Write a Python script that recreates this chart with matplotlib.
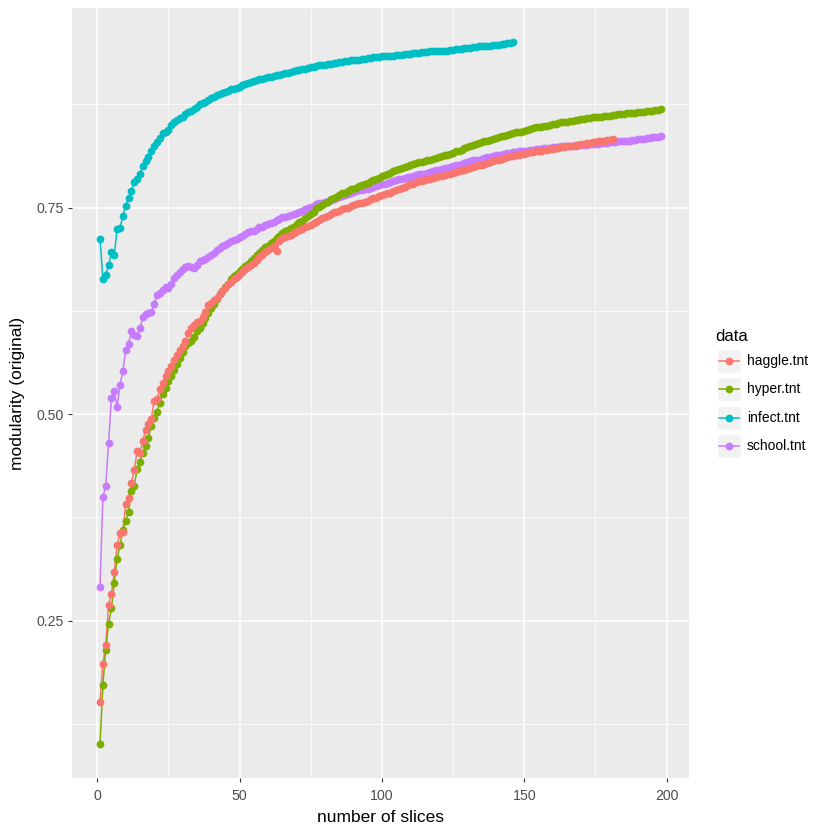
import numpy as np
import matplotlib
matplotlib.use("Agg")
from matplotlib import pyplot as plt
from matplotlib.patches import Rectangle
from matplotlib.lines import Line2D

plt.rcParams['font.family'] = ['Liberation Sans', 'DejaVu Sans']

# modularity (original) per number of slices
haggle = [
    0.152, 0.198, 0.220, 0.269, 0.282, 0.309, 0.341, 0.356, 0.357, 0.391,
    0.399, 0.416, 0.432, 0.455, 0.453, 0.467, 0.481, 0.488, 0.494, 0.516,
    0.518, 0.530, 0.538, 0.546, 0.552, 0.558, 0.566, 0.572, 0.578, 0.582,
    0.588, 0.598, 0.604, 0.608, 0.611, 0.613, 0.618, 0.624, 0.632, 0.635,
    0.638, 0.641, 0.645, 0.649, 0.653, 0.657, 0.660, 0.663, 0.666, 0.669,
    0.672, 0.675, 0.678, 0.681, 0.683, 0.686, 0.690, 0.693, 0.696, 0.698,
    0.701, 0.703, 0.697, 0.709, 0.713, 0.714, 0.716, 0.717, 0.719, 0.721,
    0.723, 0.724, 0.726, 0.728, 0.729, 0.731, 0.733, 0.735, 0.737, 0.739,
    0.740, 0.742, 0.744, 0.745, 0.746, 0.748, 0.749, 0.750, 0.752, 0.753,
    0.754, 0.755, 0.756, 0.757, 0.758, 0.760, 0.761, 0.762, 0.764, 0.765,
    0.766, 0.767, 0.768, 0.770, 0.771, 0.773, 0.774, 0.775, 0.777, 0.778,
    0.779, 0.781, 0.782, 0.782, 0.783, 0.784, 0.785, 0.786, 0.787, 0.788,
    0.788, 0.789, 0.790, 0.791, 0.792, 0.793, 0.794, 0.795, 0.796, 0.797,
    0.798, 0.799, 0.800, 0.801, 0.802, 0.803, 0.804, 0.805, 0.806, 0.807,
    0.808, 0.809, 0.810, 0.811, 0.812, 0.812, 0.813, 0.814, 0.815, 0.815,
    0.816, 0.817, 0.817, 0.818, 0.818, 0.819, 0.820, 0.820, 0.821, 0.821,
    0.822, 0.822, 0.823, 0.823, 0.824, 0.825, 0.825, 0.826, 0.826, 0.827,
    0.827, 0.828, 0.828, 0.829, 0.829, 0.830, 0.831, 0.831, 0.832, 0.832,
    0.833,
]

hyper = [
    0.101, 0.172, 0.215, 0.246, 0.265, 0.296, 0.325, 0.341, 0.360, 0.370,
    0.382, 0.407, 0.413, 0.433, 0.442, 0.453, 0.461, 0.471, 0.486, 0.495,
    0.502, 0.514, 0.524, 0.532, 0.540, 0.546, 0.553, 0.561, 0.568, 0.575,
    0.582, 0.586, 0.589, 0.593, 0.600, 0.604, 0.610, 0.616, 0.622, 0.628,
    0.633, 0.639, 0.645, 0.649, 0.654, 0.658, 0.663, 0.667, 0.670, 0.673,
    0.676, 0.679, 0.682, 0.685, 0.689, 0.692, 0.695, 0.699, 0.702, 0.704,
    0.707, 0.710, 0.713, 0.716, 0.719, 0.722, 0.723, 0.725, 0.727, 0.730,
    0.732, 0.734, 0.737, 0.740, 0.742, 0.745, 0.749, 0.751, 0.753, 0.755,
    0.757, 0.760, 0.762, 0.763, 0.765, 0.767, 0.768, 0.770, 0.772, 0.773,
    0.774, 0.776, 0.777, 0.779, 0.780, 0.782, 0.783, 0.785, 0.786, 0.788,
    0.789, 0.791, 0.792, 0.794, 0.796, 0.797, 0.798, 0.799, 0.800, 0.802,
    0.803, 0.804, 0.805, 0.805, 0.806, 0.807, 0.808, 0.809, 0.810, 0.811,
    0.812, 0.813, 0.814, 0.815, 0.816, 0.818, 0.819, 0.820, 0.822, 0.823,
    0.824, 0.826, 0.827, 0.828, 0.829, 0.830, 0.831, 0.832, 0.833, 0.834,
    0.835, 0.836, 0.837, 0.838, 0.839, 0.840, 0.841, 0.842, 0.842, 0.843,
    0.844, 0.845, 0.846, 0.847, 0.847, 0.848, 0.849, 0.849, 0.850, 0.851,
    0.851, 0.852, 0.853, 0.853, 0.854, 0.855, 0.855, 0.856, 0.856, 0.857,
    0.857, 0.858, 0.858, 0.859, 0.859, 0.860, 0.860, 0.861, 0.861, 0.861,
    0.862, 0.862, 0.863, 0.863, 0.863, 0.864, 0.864, 0.865, 0.865, 0.866,
    0.866, 0.866, 0.867, 0.867, 0.867, 0.868, 0.868, 0.869,
]

infect = [
    0.712, 0.663, 0.668, 0.680, 0.696, 0.693, 0.724, 0.725, 0.740, 0.752,
    0.762, 0.770, 0.781, 0.785, 0.791, 0.800, 0.806, 0.811, 0.818, 0.825,
    0.829, 0.834, 0.840, 0.841, 0.844, 0.850, 0.854, 0.856, 0.858, 0.860,
    0.863, 0.866, 0.867, 0.869, 0.872, 0.875, 0.877, 0.878, 0.880, 0.882,
    0.884, 0.886, 0.887, 0.889, 0.890, 0.891, 0.893, 0.894, 0.895, 0.896,
    0.898, 0.899, 0.901, 0.902, 0.903, 0.904, 0.905, 0.906, 0.907, 0.908,
    0.908, 0.909, 0.910, 0.911, 0.912, 0.913, 0.913, 0.914, 0.915, 0.916,
    0.917, 0.918, 0.918, 0.919, 0.920, 0.920, 0.921, 0.922, 0.922, 0.923,
    0.924, 0.924, 0.925, 0.925, 0.926, 0.926, 0.927, 0.927, 0.928, 0.928,
    0.929, 0.929, 0.930, 0.930, 0.931, 0.931, 0.932, 0.932, 0.932, 0.933,
    0.933, 0.934, 0.934, 0.934, 0.935, 0.935, 0.935, 0.936, 0.936, 0.936,
    0.937, 0.937, 0.937, 0.938, 0.938, 0.938, 0.939, 0.939, 0.939, 0.940,
    0.940, 0.940, 0.940, 0.941, 0.941, 0.942, 0.942, 0.942, 0.943, 0.943,
    0.943, 0.944, 0.944, 0.945, 0.945, 0.945, 0.946, 0.946, 0.947, 0.947,
    0.947, 0.948, 0.948, 0.949, 0.949, 0.950,
]

school = [
    0.291, 0.400, 0.413, 0.465, 0.520, 0.528, 0.508, 0.535, 0.552, 0.577,
    0.585, 0.601, 0.596, 0.595, 0.604, 0.617, 0.621, 0.622, 0.623, 0.633,
    0.644, 0.647, 0.650, 0.654, 0.653, 0.658, 0.665, 0.668, 0.672, 0.675,
    0.678, 0.679, 0.678, 0.677, 0.681, 0.685, 0.687, 0.688, 0.690, 0.692,
    0.695, 0.698, 0.701, 0.703, 0.705, 0.707, 0.709, 0.711, 0.712, 0.714,
    0.716, 0.718, 0.720, 0.721, 0.722, 0.724, 0.726, 0.727, 0.729, 0.730,
    0.731, 0.733, 0.735, 0.736, 0.738, 0.739, 0.740, 0.741, 0.742, 0.743,
    0.744, 0.746, 0.748, 0.749, 0.751, 0.752, 0.754, 0.755, 0.756, 0.757,
    0.758, 0.759, 0.760, 0.762, 0.763, 0.764, 0.765, 0.766, 0.768, 0.769,
    0.770, 0.771, 0.771, 0.772, 0.773, 0.774, 0.775, 0.776, 0.777, 0.778,
    0.779, 0.780, 0.781, 0.782, 0.783, 0.784, 0.785, 0.786, 0.787, 0.787,
    0.788, 0.789, 0.790, 0.791, 0.791, 0.792, 0.793, 0.794, 0.795, 0.796,
    0.797, 0.798, 0.798, 0.799, 0.800, 0.801, 0.802, 0.803, 0.804, 0.805,
    0.806, 0.807, 0.808, 0.808, 0.809, 0.810, 0.811, 0.811, 0.812, 0.813,
    0.814, 0.814, 0.815, 0.816, 0.816, 0.817, 0.817, 0.818, 0.818, 0.819,
    0.819, 0.820, 0.820, 0.821, 0.821, 0.821, 0.822, 0.822, 0.822, 0.823,
    0.823, 0.823, 0.824, 0.824, 0.824, 0.825, 0.825, 0.825, 0.826, 0.826,
    0.826, 0.826, 0.827, 0.827, 0.827, 0.827, 0.828, 0.828, 0.828, 0.829,
    0.829, 0.829, 0.830, 0.830, 0.831, 0.831, 0.831, 0.832, 0.832, 0.833,
    0.833, 0.833, 0.834, 0.834, 0.835, 0.835, 0.835, 0.836,
]

nomes = ["haggle.tnt", "hyper.tnt", "infect.tnt", "school.tnt"]
series = [haggle, hyper, infect, school]
cores = ["#F8766D", "#7CAE00", "#00BFC4", "#C77CFF"]

fig = plt.figure(figsize=(8.3, 8.3), dpi=100)
W = H = 830.0
ax = fig.add_axes([72 / W, 1 - 778 / H, (689 - 72) / W, (778 - 8) / H])
ax.set_facecolor("#EBEBEB")
for s in ax.spines.values():
    s.set_visible(False)

# lines first, points after (ggplot geom_line + geom_point)
for vals, cor in zip(series, cores):
    x = np.arange(1, len(vals) + 1)
    ax.plot(x, vals, color=cor, lw=1.1, zorder=3)

ordem = [3, 1, 0, 2]
for i in ordem:
    vals = series[i]
    x = np.arange(1, len(vals) + 1)
    ax.plot(x, vals, ls="none", marker="o", ms=5.6, mec="none",
            color=cores[i], zorder=4)

ax.set_xlim(-8.85, 207.85)
ax.set_ylim(0.0595, 0.9915)
ax.set_xticks([0, 50, 100, 150, 200])
ax.set_xticks([25, 75, 125, 175], minor=True)
ax.set_yticks([0.25, 0.50, 0.75])
ax.set_yticklabels(["0.25", "0.50", "0.75"])
ax.set_yticks([0.125, 0.375, 0.625, 0.875], minor=True)
ax.grid(which="major", color="white", lw=1.1, zorder=0)
ax.grid(which="minor", color="white", lw=0.55, zorder=0)
ax.set_axisbelow(True)
ax.tick_params(which="major", length=3, width=0.8, color="#333333",
               labelsize=10.2, labelcolor="#4D4D4D", pad=3)
ax.tick_params(axis="x", which="major", pad=5)
ax.tick_params(which="minor", length=0)

ax.set_xlabel("number of slices", fontsize=12.5, labelpad=5)
ax.set_ylabel("modularity (original)", fontsize=12.5, labelpad=8)

# legenda no estilo ggplot
fig.text(715 / W, 1 - 336 / H, "data", fontsize=12, va="center", ha="left")
for k, (nome, cor) in enumerate(zip(nomes, cores)):
    cy = 361 + 28.3 * k
    fig.patches.append(Rectangle((717 / W, 1 - (cy + 12) / H), 24 / W, 24 / H,
                                 transform=fig.transFigure,
                                 facecolor="#F2F2F2", edgecolor="white", lw=1))
    fig.lines.append(Line2D([719 / W, 739 / W], [1 - cy / H, 1 - cy / H],
                            transform=fig.transFigure, color=cor, lw=1.1))
    fig.lines.append(Line2D([729 / W], [1 - cy / H], transform=fig.transFigure,
                            ls="none", marker="o", ms=5.6, mec="none", color=cor))
    fig.text(747 / W, 1 - cy / H, nome, fontsize=10, va="center", ha="left")

plt.savefig("out.png", dpi=100)
